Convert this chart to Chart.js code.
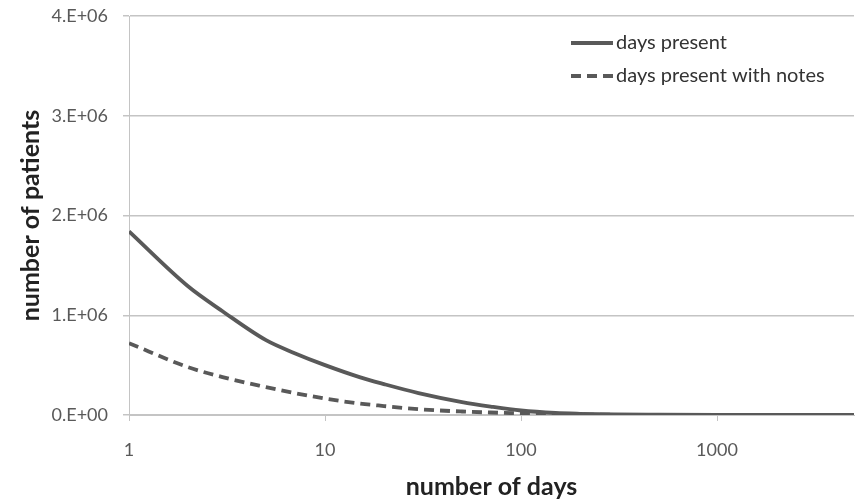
<!DOCTYPE html>
<html>
<head>
<meta charset="utf-8">
<script src="https://cdn.jsdelivr.net/npm/chart.js@4"></script>
<style>
  html, body { margin: 0; padding: 0; background: #fff; }
  #wrap { width: 859px; height: 502px; }
</style>
</head>
<body>
<div id="wrap"><canvas id="daysChart"></canvas></div>
<script>
// values
const days = [1, 2, 3, 5, 7, 10, 15, 20, 30, 50, 70, 100, 150, 200, 300, 500, 1000, 2000, 5000];
const daysPresent = [1840000, 1290000, 1040000, 750000, 620000, 500000, 380000, 310000, 220000, 130000,
    85000, 45000, 20000, 12000, 6000, 3000, 1000, 500, 200];
const daysWithNotes = [720000, 480000, 380000, 280000, 220000, 165000, 115000, 90000, 58000, 35000,
    25000, 16000, 8000, 5000, 2000, 1000, 400, 200, 100];
const xTicks = [1, 10, 100, 1000];
const yTicks = [0, 1000000, 2000000, 3000000, 4000000];

const lineColor = '#595959';
const gridColor = '#c4c4c4';
const fontFamily = 'Lato, "DejaVu Sans", sans-serif';

// Excel style "4.E+06"
function sci(v) {
    if (v === 0) return '0.E+00';
    const exp = Math.floor(Math.log10(v));
    const mant = Math.round(v / Math.pow(10, exp));
    return mant + '.E+' + String(exp).padStart(2, '0');
}

function points(ys) {
    return days.map((d, i) => ({ x: d, y: ys[i] }));
}

// legend drawn inside the plot, top right, like the original
const insideLegend = {
    id: 'insideLegend',
    afterDraw(chart) {
        const ctx = chart.ctx;
        const area = chart.chartArea;
        const x0 = area.right - 283;
        ctx.save();
        ctx.font = '20px ' + fontFamily;
        ctx.textBaseline = 'middle';
        chart.data.datasets.forEach((ds, i) => {
            const y = area.top + 27 + i * 33;
            ctx.beginPath();
            ctx.strokeStyle = ds.borderColor;
            ctx.lineWidth = ds.borderWidth;
            ctx.setLineDash(ds.borderDash || []);
            ctx.moveTo(x0, y);
            ctx.lineTo(x0 + 42, y);
            ctx.stroke();
            ctx.setLineDash([]);
            ctx.fillStyle = '#333';
            ctx.fillText(ds.label, x0 + 45, y);
        });
        ctx.restore();
    }
};

new Chart(document.getElementById('daysChart'), {
    type: 'line',
    data: {
        datasets: [
            {
                label: 'days present',
                data: points(daysPresent),
                borderColor: lineColor,
                borderWidth: 3.8,
                pointRadius: 0,
                cubicInterpolationMode: 'monotone',
            },
            {
                label: 'days present with notes',
                data: points(daysWithNotes),
                borderColor: lineColor,
                borderWidth: 3.8,
                borderDash: [10, 6],
                pointRadius: 0,
                cubicInterpolationMode: 'monotone',
            },
        ],
    },
    options: {
        responsive: true,
        maintainAspectRatio: false,
        animation: false,
        layout: { padding: { top: 16, right: 5, left: 0, bottom: 0 } },
        plugins: {
            legend: { display: false },
            tooltip: { enabled: false },
        },
        scales: {
            x: {
                type: 'logarithmic',
                min: 1,
                max: 5000,
                afterBuildTicks: (scale) => { scale.ticks = xTicks.map(v => ({ value: v })); },
                afterFit: (scale) => { scale.height = 87; },
                ticks: {
                    autoSkip: false,
                    maxRotation: 0,
                    padding: 18,
                    color: lineColor,
                    font: { family: fontFamily, size: 18 },
                    callback: (v) => String(v),
                },
                grid: { drawOnChartArea: false, tickLength: 6, color: gridColor },
                border: { color: gridColor },
                title: {
                    display: true,
                    text: 'number of days',
                    color: '#222',
                    font: { family: fontFamily, size: 25, weight: 'bold' },
                    padding: { top: 0, bottom: 0 },
                },
            },
            y: {
                min: 0,
                max: 4000000,
                afterBuildTicks: (scale) => { scale.ticks = yTicks.map(v => ({ value: v })); },
                afterFit: (scale) => {
                    scale.width = 129;
                    scale.paddingTop = 0;
                    scale.paddingBottom = 0;
                },
                ticks: {
                    padding: 15,
                    color: lineColor,
                    font: { family: fontFamily, size: 18 },
                    callback: (v) => sci(v),
                },
                grid: { tickLength: 6, color: gridColor, lineWidth: 1.5 },
                border: { color: gridColor },
                title: {
                    display: true,
                    text: 'number of patients',
                    color: '#222',
                    font: { family: fontFamily, size: 25, weight: 'bold' },
                    padding: { top: 16, bottom: 0 },
                },
            },
        },
    },
    plugins: [insideLegend],
});
</script>
</body>
</html>
